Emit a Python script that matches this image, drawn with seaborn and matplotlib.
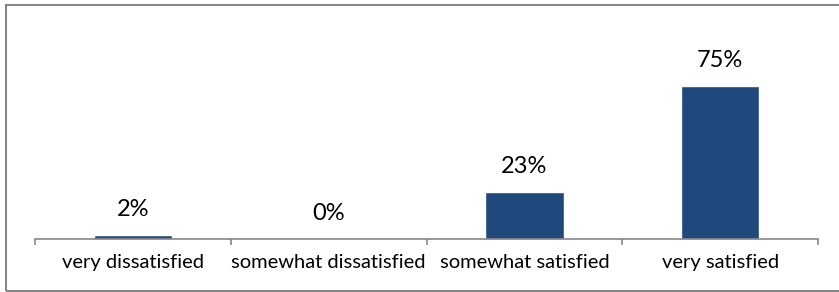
import numpy as np
import pandas as pd
import seaborn as sns
import matplotlib.pyplot as plt
from matplotlib.patches import Rectangle

sns.set_style("white")
plt.rcParams['font.family'] = ['Lato', 'DejaVu Sans']

categories = ['very dissatisfied', 'somewhat dissatisfied', 'somewhat satisfied', 'very satisfied']
percents = [2, 0, 23, 75]
value_labels = ['2%', '0%', '23%', '75%']

df = pd.DataFrame({'answer': categories, 'pct': percents})

W, H = 839, 292
fig = plt.figure(figsize=(W / 100, H / 100), dpi=100)
ax = fig.add_axes([35 / W, 1 - 239 / H, (818 - 35) / W, 204 / H])

sns.barplot(data=df, x='answer', y='pct', color='#1F497D', width=0.4,
            saturation=1, ax=ax)

ax.set_xlim(-0.5, 3.5)
ax.set_ylim(0, 100)
ax.set_xlabel('')
ax.set_ylabel('')
ax.set_yticks([])

for s in ['top', 'right', 'left']:
    ax.spines[s].set_visible(False)
ax.spines['bottom'].set_color('#868686')
ax.spines['bottom'].set_linewidth(1.2)

# boundary ticks (no labels), category names on minor ticks at bar centres
ax.set_xticks([-0.5, 0.5, 1.5, 2.5, 3.5], labels=[''] * 5)
ax.tick_params(axis='x', which='major', direction='out', length=4.5,
               width=1.2, color='#868686', bottom=True)
ax.set_xticks(range(len(categories)), labels=categories, minor=True)
ax.tick_params(axis='x', which='minor', length=0, pad=11, labelsize=14.5,
               labelcolor='black')

for i, (v, lab) in enumerate(zip(percents, value_labels)):
    ax.annotate(lab, (i, v), xytext=(0, 18.5), textcoords='offset points',
                ha='center', va='center', fontsize=17, color='black')

# chart border
fig.patches.append(Rectangle((6 / W, 1 - 290.5 / H), (W + 10) / W, 285.5 / H,
                             transform=fig.transFigure, fill=False,
                             edgecolor='#868686', linewidth=1.5))

fig.savefig('out.png', dpi=100)
